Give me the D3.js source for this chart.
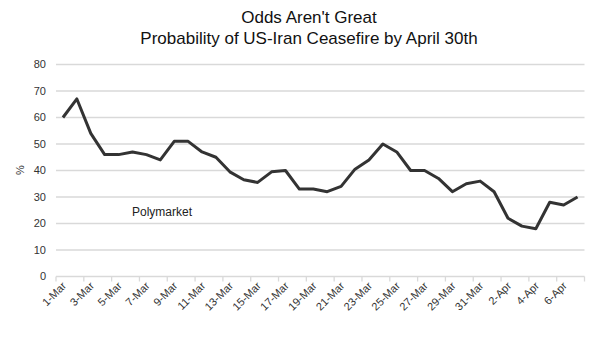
<!DOCTYPE html>
<html><head><meta charset="utf-8">
<script src="https://cdn.jsdelivr.net/npm/d3@7"></script>
<style>body{margin:0;background:#fff}svg{display:block;font-family:"Liberation Sans",Arial,sans-serif}</style>
</head><body><svg id="c" width="600" height="352"></svg>
<script>
const dates = ["1-Mar","2-Mar","3-Mar","4-Mar","5-Mar","6-Mar","7-Mar","8-Mar","9-Mar","10-Mar","11-Mar","12-Mar","13-Mar","14-Mar","15-Mar","16-Mar","17-Mar","18-Mar","19-Mar","20-Mar","21-Mar","22-Mar","23-Mar","24-Mar","25-Mar","26-Mar","27-Mar","28-Mar","29-Mar","30-Mar","31-Mar","1-Apr","2-Apr","3-Apr","4-Apr","5-Apr","6-Apr","7-Apr"];
const polymarket = [60,67,54,46,46,47,46,44,51,51,47,45,39.5,36.5,35.5,39.5,40,33,33,32,34,40.5,44,50,47,40,40,37,32,35,36,32,22,19,18,28,27,30];
const yTicks = [0,10,20,30,40,50,60,70,80];
const titleLines = ["Odds Aren't Great","Probability of US-Iran Ceasefire by April 30th"];
const seriesLabel = "Polymarket";
const yLabel = "%";

const svg = d3.select("#c");
const L = 56, R = 584.5, T = 64.5, B = 276.5;
const x = d3.scaleBand().domain(dates).range([L, R]).padding(0);
const y = d3.scaleLinear().domain([0, 80]).range([B, T]);

// title
svg.append("g").selectAll("text").data(titleLines).join("text")
  .attr("x", 309).attr("y", (d,i) => 23 + i*21)
  .attr("text-anchor","middle").attr("font-size", 17).attr("fill","#111").text(d => d);

// gridlines
svg.append("g").selectAll("line").data(yTicks.filter(v => v > 0)).join("line")
  .attr("x1", L).attr("x2", R).attr("y1", d => y(d)).attr("y2", d => y(d))
  .attr("stroke","#d9d9d9").attr("stroke-width",1.3);

// y tick labels
svg.append("g").selectAll("text").data(yTicks).join("text")
  .attr("x", 46).attr("y", d => y(d)).attr("dy","0.35em")
  .attr("text-anchor","end").attr("font-size", 11).attr("fill","#333").text(d => d);

// y label
svg.append("text").attr("transform","translate(24,170) rotate(-90)")
  .attr("text-anchor","middle").attr("font-size",11).attr("fill","#333").text(yLabel);

// x axis line & ticks (every 2 categories)
svg.append("line").attr("x1", L).attr("x2", R).attr("y1", B).attr("y2", B)
  .attr("stroke","#d9d9d9").attr("stroke-width",1.3);
const tickIdx = d3.range(0, dates.length + 1, 2);
svg.append("g").selectAll("line").data(tickIdx).join("line")
  .attr("x1", i => i < dates.length ? x(dates[i]) : R)
  .attr("x2", i => i < dates.length ? x(dates[i]) : R)
  .attr("y1", B).attr("y2", B + 5)
  .attr("stroke","#d9d9d9").attr("stroke-width",1.3);

// x labels
const labelDates = dates.filter((d,i) => i % 2 === 0);
svg.append("g").selectAll("text").data(labelDates).join("text")
  .attr("transform", d => `translate(${x(d) + x.bandwidth()/2 + 4},${B + 10}) rotate(-45)`)
  .attr("text-anchor","end").attr("font-size",11).attr("fill","#333").text(d => d);

// line
const line = d3.line().x((d,i) => x(dates[i]) + x.bandwidth()/2).y(d => y(d));
svg.append("path").datum(polymarket).attr("d", line)
  .attr("fill","none").attr("stroke","#333").attr("stroke-width",3).attr("stroke-linejoin","round");

// series label
svg.append("text").attr("x", 162).attr("y", 216).attr("text-anchor","middle")
  .attr("font-size",12).attr("fill","#222").text(seriesLabel);
</script></body></html>
